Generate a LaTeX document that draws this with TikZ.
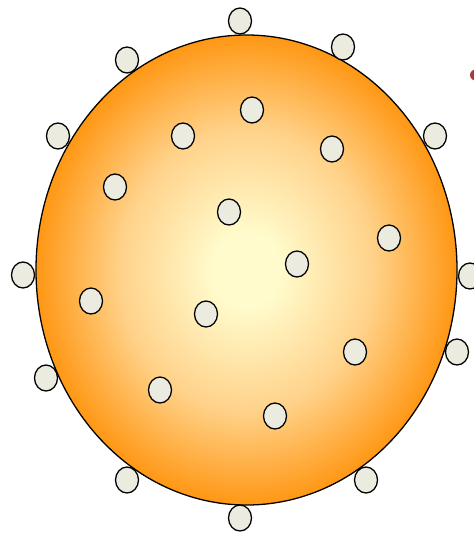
\documentclass[tikz,border=0pt]{standalone}
\usepackage{tikz}
\usetikzlibrary{shapes.geometric}
\definecolor{cellfill}{HTML}{ECEBE0}
\definecolor{bodyin}{HTML}{FFFBCC}
\definecolor{bodymid}{HTML}{FFD28A}
\definecolor{bodyout}{HTML}{FF9714}
\definecolor{markred}{HTML}{A83A3A}
\pgfdeclareradialshading{bodyshade}{\pgfpoint{0bp}{0bp}}{color(0bp)=(bodyin);
    color(4bp)=(bodyin); color(15bp)=(bodymid); color(25bp)=(bodyout); color(50bp)=(bodyout)}
\tikzset{
    body/.style={
        draw,line width=1.1pt,ellipse,
        shading=bodyshade,
        minimum width=12.63cm,minimum height=14.1cm,
        inner sep=0pt
    },
    cell/.style={
        draw,line width=1.1pt,ellipse,
        fill=cellfill,
        minimum width=0.69cm,minimum height=0.78cm,
        inner sep=0pt
    }
}
\begin{document}
\begin{tikzpicture}[x=0.03cm,y=-0.03cm]
\useasboundingbox (0,0) rectangle (473,533);
\node[body] (cellbody) at (246.5,270) {};
% cells on the rim
\foreach \i/\x/\y in {1/240/21,2/127/60,3/343/47,4/58/136,5/435/136,6/23/275,
    7/470/276,8/46/378,9/457/352,10/127/480,11/366/480,12/240/518}
    \node[cell] (rim\i) at (\x,\y) {};
% cells inside
\foreach \i/\x/\y in {1/252/110,2/183/136,3/332/149,4/115/187,5/229/212,6/389/238,
    7/297/264,8/91/301,9/206/314,10/355/352,11/160/390,12/275/416}
    \node[cell] (in\i) at (\x,\y) {};
\fill[markred] (477,75) ellipse (7 and 6);
\end{tikzpicture}
\end{document}
